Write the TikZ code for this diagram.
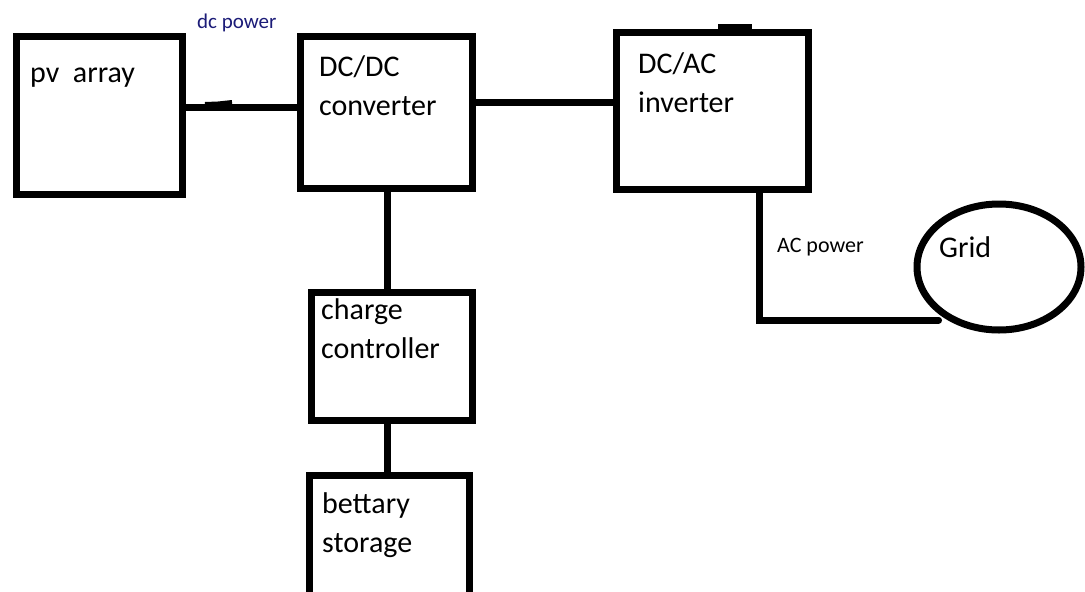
\documentclass[tikz,border=0pt]{standalone}
\usepackage{fontspec}
\setmainfont{Carlito}
\usepackage{tikz}
\usepackage{xcolor}
\usetikzlibrary{shapes.geometric,positioning}
\definecolor{navy}{HTML}{1C1C78}
\tikzset{
  blk/.style={draw,line width=7pt,inner sep=0pt},
  txt/.style={anchor=base west,align=left,inner sep=0pt,font=\fontsize{30}{39}\selectfont},
  lbl/.style={anchor=base west,inner sep=0pt,font=\fontsize{22}{26}\selectfont},
  wire/.style={line width=7pt,line cap=round}
}

\begin{document}
\begin{tikzpicture}[x=1pt,y=-1pt]
\clip (0,0) rectangle (1085,592);
\fill[white] (0,0) rectangle (1085,592);

\node[blk,minimum width=166pt,minimum height=158pt] (pv) at (99,115) {};
\node[blk,minimum width=172pt,minimum height=152pt] (dcdc) at (386,112) {};
\node[blk,minimum width=192pt,minimum height=157pt] (dcac) at (712,110.5) {};
\node[blk,minimum width=161pt,minimum height=128pt] (charge) at (391.5,356) {};
\node[blk,minimum width=160pt,minimum height=145pt] (bat) at (389,548) {};
\node[blk,ellipse,minimum width=164pt,minimum height=126pt] (grid) at (999,267) {};

% base anchor sits on the last line
\node[txt] (pvtxt) at (30,82) {pv~~array};
\node[txt] (dcdctxt) at (319,115) {DC/DC\\converter};
\node[txt] (dcactxt) at (638,112) {DC/AC\\inverter};
\node[txt] (chargetxt) at (321,358) {charge\\controller};
\node[txt] (battxt) at (322,552) {bettary\\storage};
\node[txt] (gridtxt) at (939,257) {Grid};
\node[lbl,text=navy,font=\fontsize{21}{25}\selectfont] (dclbl) at (197,28) {dc power};
\node[lbl] (aclbl) at (777,252) {AC power};

\draw[wire] ([yshift=8pt]pv.east) -- ([yshift=8pt]pv.east -| dcdc.west);
\draw[wire] ([yshift=10pt]dcdc.east) -- ([yshift=10pt]dcdc.east -| dcac.west);
\draw[wire] ([xshift=1pt]dcdc.south) -- ([xshift=1pt]dcdc.south |- charge.north);
\draw[wire] ([xshift=-4pt]charge.south) -- ([xshift=-4pt]charge.south |- bat.north);
\draw[wire] ([xshift=47pt]dcac.south) |- ([yshift=-6pt]grid.south west);

\draw[line width=4pt] (205,104) -- (218,103.5) -- (232,102);
\draw[line width=5pt] (718,26) -- (752,26);
\end{tikzpicture}
\end{document}
